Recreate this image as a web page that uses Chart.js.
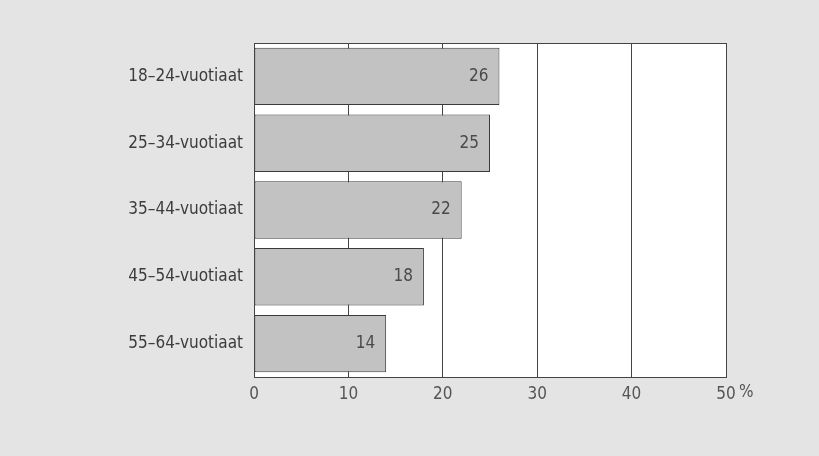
<!DOCTYPE html>
<html>
<head>
<meta charset="utf-8">
<script src="https://cdn.jsdelivr.net/npm/chart.js@4"></script>
<style>
    body { margin: 0; background: #e4e4e4; }
</style>
</head>
<body>
<canvas id="chart" width="819" height="456"></canvas>
<script>
const ageGroups = ['18–24-vuotiaat', '25–34-vuotiaat', '35–44-vuotiaat', '45–54-vuotiaat', '55–64-vuotiaat'];
const shares = [26, 25, 22, 18, 14];
const xTicks = [0, 10, 20, 30, 40, 50];

const fontFamily = "'DejaVu Sans Condensed', 'Roboto Condensed', 'Roboto', sans-serif";

// white plot box, frame, value labels and the % sign
const extras = {
    id: 'extras',
    beforeDraw(chart) {
        const ctx = chart.ctx;
        const a = chart.chartArea;
        ctx.save();
        ctx.fillStyle = '#e4e4e4';
        ctx.fillRect(0, 0, chart.width, chart.height);
        ctx.fillStyle = '#ffffff';
        ctx.fillRect(a.left, a.top, a.right - a.left, a.bottom - a.top);
        ctx.restore();
    },
    afterDatasetsDraw(chart) {
        const ctx = chart.ctx;
        const a = chart.chartArea;
        ctx.save();
        ctx.strokeStyle = '#444';
        ctx.lineWidth = 1;
        ctx.strokeRect(a.left + 0.5, a.top + 0.5, a.right - a.left, a.bottom - a.top);

        ctx.font = '17px ' + fontFamily;
        ctx.fillStyle = '#4a4a4a';
        ctx.textAlign = 'right';
        ctx.textBaseline = 'middle';
        chart.getDatasetMeta(0).data.forEach((bar, i) => {
            ctx.fillText(shares[i], bar.x - 11, bar.y);
        });

        ctx.fillStyle = '#555';
        ctx.textAlign = 'left';
        ctx.textBaseline = 'top';
        const xs = chart.scales.x;
        ctx.fillText('%', xs.getPixelForValue(50) + 13, a.bottom + 7);
        ctx.restore();
    }
};

new Chart(document.getElementById('chart'), {
    type: 'bar',
    data: {
        labels: ageGroups,
        datasets: [{
            data: shares,
            backgroundColor: '#c2c2c2',
            borderColor: '#3a3a3a',
            borderWidth: 1,
            borderSkipped: false,
            barPercentage: 0.86,
            categoryPercentage: 1
        }]
    },
    options: {
        indexAxis: 'y',
        responsive: false,
        animation: false,
        devicePixelRatio: 1,
        layout: { padding: { top: 43, right: 93, left: 0, bottom: 0 } },
        plugins: { legend: { display: false }, tooltip: { enabled: false } },
        scales: {
            x: {
                min: 0,
                max: 50,
                afterBuildTicks(scale) {
                    scale.ticks = xTicks.map(v => ({ value: v }));
                },
                afterFit(scale) { scale.height = 79; },
                grid: { color: '#444', drawTicks: false, lineWidth: 1 },
                border: { display: false },
                ticks: {
                    padding: 7,
                    color: '#555',
                    font: { family: fontFamily, size: 17 }
                }
            },
            y: {
                afterFit(scale) { scale.width = 254; },
                grid: { display: false, drawTicks: false },
                border: { display: false },
                ticks: {
                    padding: 11,
                    color: '#3c3c3c',
                    font: { family: fontFamily, size: 17 }
                }
            }
        }
    },
    plugins: [extras]
});
</script>
</body>
</html>
